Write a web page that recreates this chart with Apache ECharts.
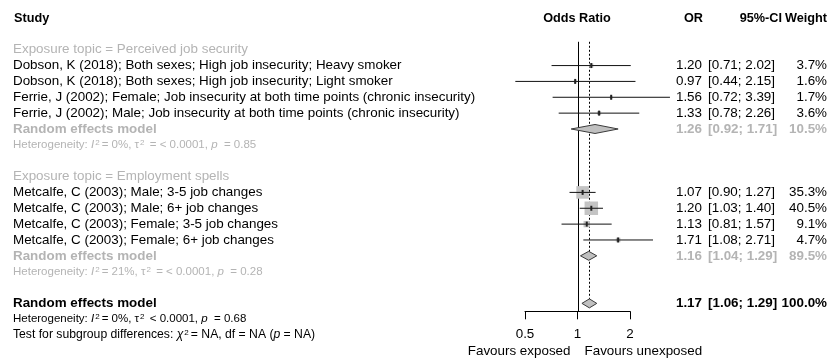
<!DOCTYPE html>
<html>
<head>
<meta charset="utf-8">
<script src="https://cdn.jsdelivr.net/npm/echarts@6/dist/echarts.min.js"></script>
<style>
  html, body { margin: 0; padding: 0; background: #fff; }
  #chart { width: 830px; height: 361px; }
</style>
</head>
<body>
<div id="chart"></div>
<script>
// study rows
const studyLabels = [
  'Dobson, K (2018); Both sexes; High job insecurity; Heavy smoker',
  'Dobson, K (2018); Both sexes; High job insecurity; Light smoker',
  'Ferrie, J (2002); Female; Job insecurity at both time points (chronic insecurity)',
  'Ferrie, J (2002); Male; Job insecurity at both time points (chronic insecurity)',
  'Metcalfe, C (2003); Male; 3-5 job changes',
  'Metcalfe, C (2003); Male; 6+ job changes',
  'Metcalfe, C (2003); Female; 3-5 job changes',
  'Metcalfe, C (2003); Female; 6+ job changes'
];
const studyRows = [3, 4, 5, 6, 11, 12, 13, 14];
const studyOR = [1.20, 0.97, 1.56, 1.33, 1.07, 1.20, 1.13, 1.71];
const studyLower = [0.71, 0.44, 0.72, 0.78, 0.90, 1.03, 0.81, 1.08];
const studyUpper = [2.02, 2.15, 3.39, 2.26, 1.27, 1.40, 1.57, 2.71];
const studyWeight = [3.7, 1.6, 1.7, 3.6, 35.3, 40.5, 9.1, 4.7];

// subgroup titles
const groupTitles = ['Exposure topic = Perceived job security', 'Exposure topic = Employment spells'];
const groupTitleRows = [2, 10];

// pooled estimates (two subgroups + overall)
const poolRows = [7, 15, 18];
const poolOR = [1.26, 1.16, 1.17];
const poolLower = [0.92, 1.04, 1.06];
const poolUpper = [1.71, 1.29, 1.29];
const poolWeight = [10.5, 89.5, 100.0];
const poolOverall = [0, 0, 1];

// heterogeneity lines
const hetRows = [8, 16, 19];
const hetI2 = ['0%', '21%', '0%'];
const hetTau2 = ['= < 0.0001', '= < 0.0001', '< 0.0001'];
const hetP = ['0.85', '0.28', '0.68'];
const hetOverall = [0, 0, 1];

const testRow = 20;
const axisTicks = [0.5, 1, 2];
const nullValue = 1;
const favoursLabels = ['Favours exposed', 'Favours unexposed'];

const FONT = '"Liberation Sans", Arial, sans-serif';
const GRAY = '#b4b4b4';
const ROWS = 20;
const FS = 13.4;   // main text size
const HS = 11.5;   // heterogeneity text size

const chart = echarts.init(document.getElementById('chart'));

const txt = (x, y, text, opts) => ({
  type: 'text',
  x: x,
  y: y,
  style: Object.assign({
    text: text,
    fill: '#000',
    fontSize: FS,
    fontFamily: FONT,
    align: 'left',
    verticalAlign: 'middle'
  }, opts || {})
});

const ci = (l, u) => `[${l.toFixed(2)}; ${u.toFixed(2)}]`;

const renderStudy = (params, api) => {
  const i = params.dataIndex;
  const c = api.coord([api.value(0), api.value(3)]);
  const lo = api.coord([api.value(1), api.value(3)]);
  const hi = api.coord([api.value(2), api.value(3)]);
  const side = 13.5 * Math.sqrt(api.value(4) / 40.5);
  const y = c[1];
  return {
    type: 'group',
    children: [
      { type: 'rect', shape: { x: c[0] - side / 2, y: y - side / 2, width: side, height: side },
        style: { fill: '#c4c4c4' } },
      { type: 'line', shape: { x1: lo[0], y1: y, x2: hi[0], y2: y },
        style: { stroke: '#111', lineWidth: 1 } },
      { type: 'rect', shape: { x: c[0] - 1, y: y - 2.5, width: 2, height: 5 },
        style: { fill: '#222' } },
      txt(13, y, studyLabels[i]),
      txt(702, y, studyOR[i].toFixed(2), { align: 'right' }),
      txt(708, y, ci(studyLower[i], studyUpper[i])),
      txt(827, y, studyWeight[i].toFixed(1) + '%', { align: 'right' })
    ]
  };
};

const renderPool = (params, api) => {
  const i = params.dataIndex;
  const c = api.coord([api.value(0), api.value(3)]);
  const lo = api.coord([api.value(1), api.value(3)]);
  const hi = api.coord([api.value(2), api.value(3)]);
  const y = c[1];
  const col = poolOverall[i] ? '#000' : GRAY;
  const t = { fill: col, fontWeight: 'bold' };
  return {
    type: 'group',
    children: [
      { type: 'polygon',
        shape: { points: [[lo[0], y], [c[0], y - 4.5], [hi[0], y], [c[0], y + 4.5]] },
        style: { fill: '#c0c0c0', stroke: '#3a3a3a', lineWidth: 1 } },
      txt(13, y, 'Random effects model', t),
      txt(702, y, poolOR[i].toFixed(2), Object.assign({ align: 'right' }, t)),
      txt(708, y, ci(poolLower[i], poolUpper[i]), t),
      txt(827, y, poolWeight[i].toFixed(1) + '%', Object.assign({ align: 'right' }, t))
    ]
  };
};

const richFor = (col, size) => ({
  n: { fontSize: size, fontFamily: FONT, color: col },
  i: { fontSize: size, fontFamily: FONT, fontStyle: 'italic', color: col },
  s: { fontSize: 8, fontFamily: FONT, color: col, verticalAlign: 'top', padding: [0, 2, 0, 1] }
});

const renderHet = (params, api) => {
  const i = params.dataIndex;
  const y = api.coord([nullValue, api.value(1)])[1];
  const col = hetOverall[i] ? '#000' : GRAY;
  const text = '{n|Heterogeneity: }{i|I}{s|2}{n|= ' + hetI2[i] + ', τ}{s|2}{n| ' + hetTau2[i] +
    ', }{i|p}{n|  = ' + hetP[i] + '}';
  return txt(13, y, text, { rich: richFor(col, HS), fill: col });
};

const renderLabels = (params, api) => {
  const y = r => api.coord([nullValue, r])[1];
  const x1 = api.coord([nullValue, 0])[0];
  const hb = { fontWeight: 'bold', fontSize: 12.7 };
  const children = [
    txt(14, y(0), 'Study', hb),
    txt(577, y(0), 'Odds Ratio', Object.assign({ align: 'center' }, hb)),
    txt(703, y(0), 'OR', Object.assign({ align: 'right' }, hb)),
    txt(782, y(0), '95%-CI', Object.assign({ align: 'right' }, hb)),
    txt(827, y(0), 'Weight', Object.assign({ align: 'right' }, hb)),
    txt(13, y(testRow),
      '{n|Test for subgroup differences: }{i|χ}{s|2}{n|= NA, df = NA (}{i|p}{n| = NA)}',
      { rich: richFor('#000', 12.2) }),
    txt(x1 - 7, y(21.05), favoursLabels[0], { align: 'right' }),
    txt(x1 + 7, y(21.05), favoursLabels[1])
  ];
  groupTitles.forEach((g, k) => children.push(txt(13, y(groupTitleRows[k]), g, { fill: GRAY })));
  return { type: 'group', children: children };
};

const renderRefLines = (params, api) => {
  const top = api.coord([api.value(0), 1.5]);
  const bot = api.coord([api.value(0), api.value(1)]);
  return {
    type: 'line',
    shape: { x1: Math.round(top[0]) + 0.5, y1: top[1], x2: Math.round(top[0]) + 0.5, y2: bot[1] },
    style: { stroke: '#000', lineWidth: 1, lineDash: api.value(2) ? [2, 2] : null }
  };
};

chart.setOption({
  animation: false,
  grid: [
    { left: 472.5, width: 210, top: 18, height: 15.855 * ROWS },
    { left: 525, width: 105, top: 300, height: 11.3 }
  ],
  xAxis: [
    { type: 'log', logBase: 2, min: 0.25, max: 4, show: false, gridIndex: 0 },
    {
      type: 'log', logBase: 2, min: axisTicks[0], max: axisTicks[axisTicks.length - 1], gridIndex: 1,
      axisLine: { lineStyle: { color: '#000', width: 1 } },
      axisTick: { length: 8, lineStyle: { color: '#000' } },
      splitLine: { show: false },
      axisLabel: { color: '#000', fontSize: FS, fontFamily: FONT, margin: 17,
        formatter: v => String(+v.toFixed(2)) }
    }
  ],
  yAxis: [
    { type: 'value', min: 0, max: ROWS, inverse: true, show: false, gridIndex: 0 },
    { type: 'value', show: false, gridIndex: 1 }
  ],
  series: [
    {
      type: 'custom', renderItem: renderRefLines, xAxisIndex: 0, yAxisIndex: 0,
      data: [[nullValue, 18.5, 0], [poolOR[2], 18, 1]]
    },
    {
      type: 'custom', renderItem: renderStudy, xAxisIndex: 0, yAxisIndex: 0,
      data: studyOR.map((v, i) => [v, studyLower[i], studyUpper[i], studyRows[i], studyWeight[i]])
    },
    {
      type: 'custom', renderItem: renderPool, xAxisIndex: 0, yAxisIndex: 0,
      data: poolOR.map((v, i) => [v, poolLower[i], poolUpper[i], poolRows[i]])
    },
    {
      type: 'custom', renderItem: renderHet, xAxisIndex: 0, yAxisIndex: 0,
      data: hetRows.map(r => [nullValue, r])
    },
    {
      type: 'custom', renderItem: renderLabels, xAxisIndex: 0, yAxisIndex: 0,
      data: [[nullValue, 0]]
    }
  ]
});
</script>
</body>
</html>
